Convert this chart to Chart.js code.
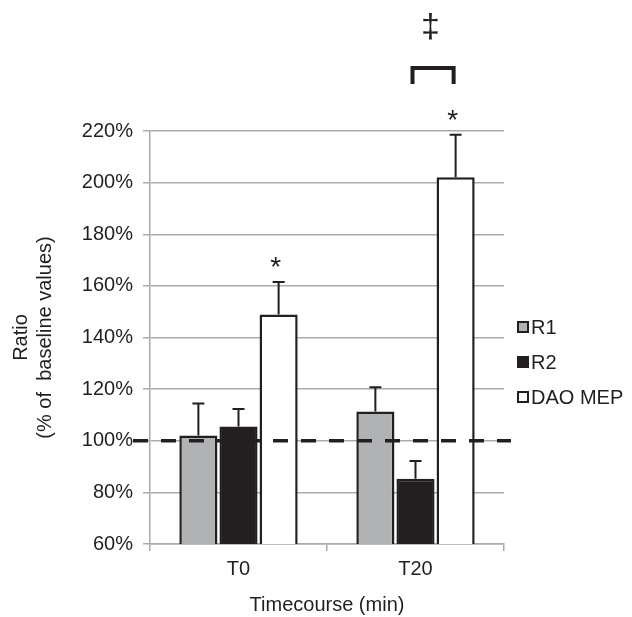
<!DOCTYPE html>
<html lang="en">
<head>
    <meta charset="UTF-8" />
    <title>Ratio by timecourse</title>
    <script src="https://cdn.jsdelivr.net/npm/chart.js@4.4.1/dist/chart.umd.min.js"></script>
    <style>
        html, body { margin: 0; padding: 0; background: #ffffff; }
        #wrap { position: relative; width: 632px; height: 617px; }
    </style>
</head>
<body>
    <div id="wrap"><canvas id="ratioChart"></canvas></div>
    <script>
        // data (% of baseline)
        const categories = ['T0', 'T20'];
        const seriesNames = ['R1', 'R2', 'DAO MEP'];
        const r1 = [102, 111.3];
        const r2 = [105.5, 85.3];
        const daoMep = [148.9, 202.1];
        // upper end of the error bars
        const r1Err = [114.4, 120.7];
        const r2Err = [112.3, 92.2];
        const daoErr = [161.5, 218.5];
        const baseline = 100;
        const yTicks = [60, 80, 100, 120, 140, 160, 180, 200, 220];

        const ink = '#231f20';
        const grid = '#ababab';
        const font = 'Liberation Sans, Arial, sans-serif';

        const errorBars = {
            id: 'errorBars',
            afterDatasetsDraw(chart) {
                const { ctx, scales: { y } } = chart;
                const errs = [r1Err, r2Err, daoErr];
                ctx.save();
                ctx.strokeStyle = ink;
                ctx.lineWidth = 2;
                errs.forEach((arr, i) => {
                    chart.getDatasetMeta(i).data.forEach((bar, j) => {
                        const top = y.getPixelForValue(arr[j]);
                        ctx.beginPath();
                        ctx.moveTo(bar.x, bar.y);
                        ctx.lineTo(bar.x, top);
                        ctx.moveTo(bar.x - 6, top);
                        ctx.lineTo(bar.x + 6, top);
                        ctx.stroke();
                    });
                });
                ctx.restore();
            }
        };

        const extras = {
            id: 'extras',
            afterDraw(chart) {
                const { ctx, scales: { y }, chartArea } = chart;
                ctx.save();
                // dashed baseline at 100%
                const by = y.getPixelForValue(baseline);
                ctx.strokeStyle = ink;
                ctx.lineWidth = 3.5;
                ctx.setLineDash([15, 13]);
                ctx.beginPath();
                ctx.moveTo(chartArea.left - 17, by);
                ctx.lineTo(chartArea.right + 7, by);
                ctx.stroke();
                ctx.setLineDash([]);

                // significance stars over DAO MEP
                const dao = chart.getDatasetMeta(2).data;
                ctx.fillStyle = ink;
                ctx.font = '28px ' + font;
                ctx.textAlign = 'center';
                ctx.textBaseline = 'alphabetic';
                dao.forEach((bar, j) => {
                    const cap = y.getPixelForValue(daoErr[j]);
                    ctx.fillText('*', bar.x - 3, cap - 6);
                });

                // bracket between R2 and DAO MEP at T20
                const a = chart.getDatasetMeta(1).data[1];
                const b = dao[1];
                ctx.lineWidth = 4;
                ctx.beginPath();
                ctx.moveTo(a.x - 3, 84);
                ctx.lineTo(a.x - 3, 68);
                ctx.lineTo(b.x - 2, 68);
                ctx.lineTo(b.x - 2, 84);
                ctx.stroke();
                ctx.font = '34px ' + font;
                ctx.textBaseline = 'middle';
                ctx.fillText('\u2021', (a.x + b.x) / 2 - 5, 28);

                // legend
                const colors = chart.data.datasets.map(d => d.backgroundColor);
                const ly = [327, 362, 397];
                ctx.font = '20px ' + font;
                ctx.textAlign = 'left';
                seriesNames.forEach((name, i) => {
                    ctx.fillStyle = colors[i];
                    ctx.fillRect(517, ly[i] - 6, 12, 12);
                    ctx.strokeStyle = ink;
                    ctx.lineWidth = 2;
                    ctx.strokeRect(518, ly[i] - 5, 10, 10);
                    ctx.fillStyle = ink;
                    ctx.fillText(name, 531, ly[i] + 1);
                });
                ctx.restore();
            }
        };

        const barBase = { borderColor: ink, borderWidth: 2.5, borderSkipped: false };

        new Chart(document.getElementById('ratioChart'), {
            type: 'bar',
            data: {
                labels: categories,
                datasets: [
                    { ...barBase, label: seriesNames[0], data: r1, backgroundColor: '#b1b2b4' },
                    { ...barBase, label: seriesNames[1], data: r2, backgroundColor: ink },
                    { ...barBase, label: seriesNames[2], data: daoMep, backgroundColor: '#ffffff' }
                ]
            },
            options: {
                responsive: true,
                maintainAspectRatio: false,
                animation: false,
                datasets: { bar: { categoryPercentage: 0.68, barPercentage: 0.95 } },
                layout: { padding: { top: 131, right: 128, bottom: 0, left: 0 } },
                plugins: { legend: { display: false }, tooltip: { enabled: false } },
                scales: {
                    x: {
                        grid: { display: true, drawOnChartArea: false, color: grid, lineWidth: 1.5, tickLength: 7 },
                        border: { display: true, color: grid, width: 1.5 },
                        ticks: { color: ink, font: { family: font, size: 20 }, padding: 6 },
                        title: { display: true, text: 'Timecourse (min)', color: ink, font: { family: font, size: 20 }, padding: { top: 0, bottom: 0 } },
                        afterFit(scale) { scale.height = 73; }
                    },
                    y: {
                        min: 60,
                        max: 220,
                        afterBuildTicks(scale) { scale.ticks = yTicks.map(v => ({ value: v })); },
                        grid: { color: grid, lineWidth: 1.5, tickLength: 7 },
                        border: { display: true, color: grid, width: 1.5 },
                        ticks: { color: ink, font: { family: font, size: 20 }, padding: 10, callback: v => v + '%' },
                        title: { display: true, text: ['Ratio', '(% of  baseline values)'], color: ink, font: { family: font, size: 20 }, padding: { top: 9, bottom: 0 } },
                        afterFit(scale) { scale.width = 150; }
                    }
                }
            },
            plugins: [errorBars, extras]
        });
    </script>
</body>
</html>
